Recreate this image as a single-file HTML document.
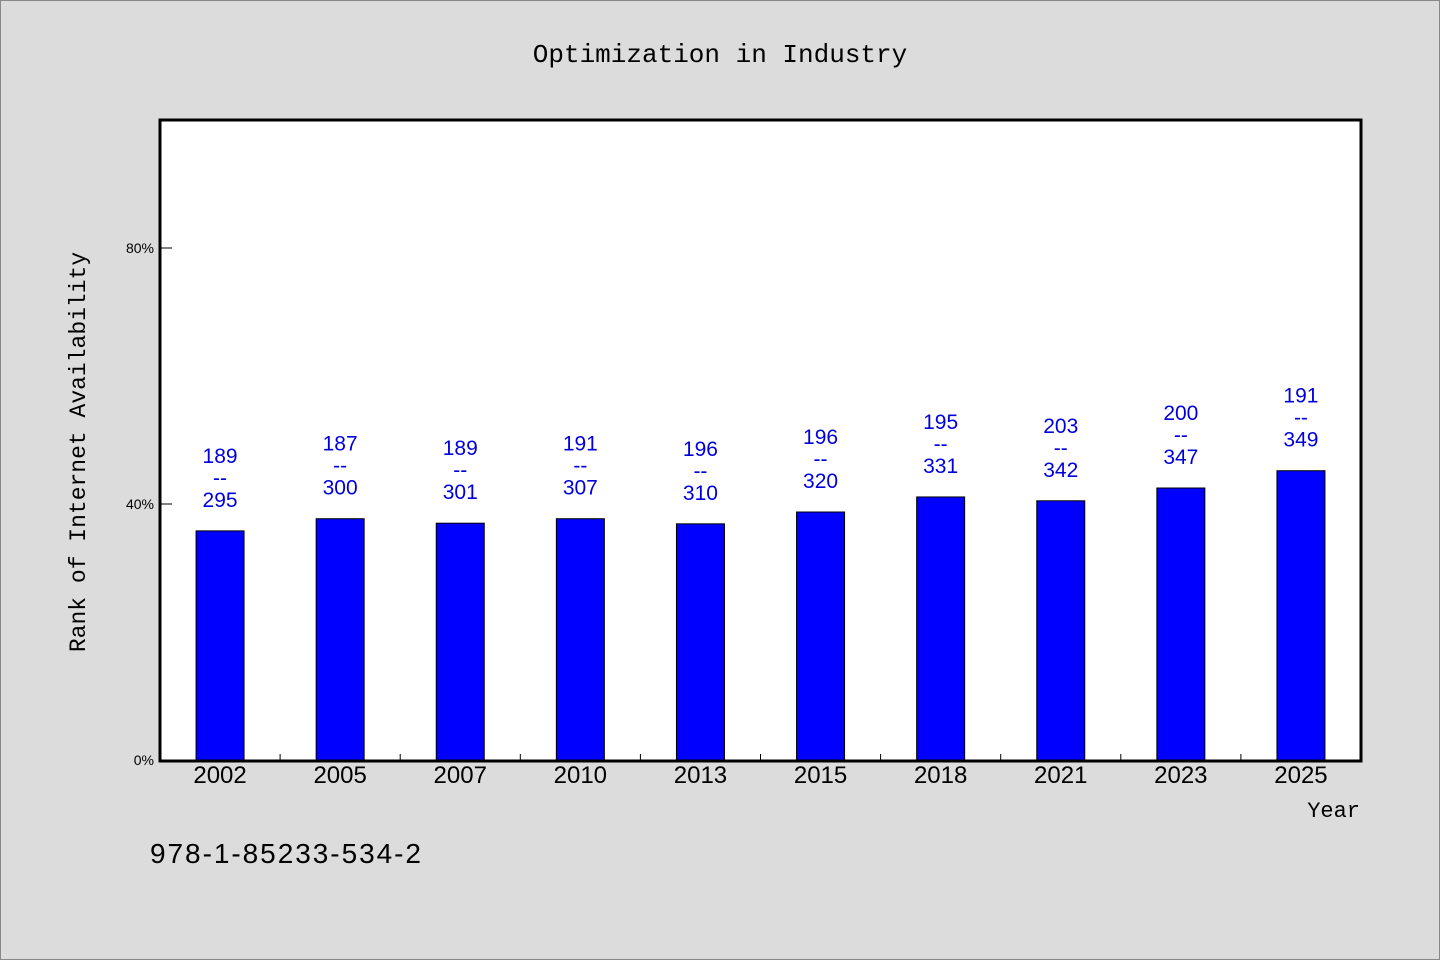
<!DOCTYPE html>
<html><head><meta charset="utf-8"><style>
body{margin:0;background:#dcdcdc;}
svg{display:block;}
</style></head><body>
<svg width="1440" height="960" xmlns="http://www.w3.org/2000/svg">
<rect x="0.5" y="0.5" width="1439" height="959" fill="#dcdcdc" stroke="#888"/>
<text x="720" y="62" text-anchor="middle" font-family="Liberation Mono, monospace" font-size="26">Optimization in Industry</text>
<rect x="160" y="120" width="1201" height="641" fill="#fff" stroke="#000" stroke-width="3"/>
<g id="marks"></g>
<text transform="translate(85,452) rotate(-90)" text-anchor="middle" font-family="Liberation Mono, monospace" font-size="23">Rank of Internet Availability</text>
<text x="1360" y="817" text-anchor="end" font-family="Liberation Mono, monospace" font-size="22">Year</text>
<text x="150" y="863" font-family="Liberation Sans, sans-serif" font-size="28" textLength="271">978-1-85233-534-2</text>
</svg>
<script>
const categories=["2002","2005","2007","2010","2013","2015","2018","2021","2023","2025"];
const values=[35.8,37.7,37.0,37.7,36.9,38.75,41.1,40.5,42.5,45.2];
const labelTop=["189","187","189","191","196","196","195","203","200","191"];
const labelBottom=["295","300","301","307","310","320","331","342","347","349"];
const yTicks=[0,40,80];
const NS="http://www.w3.org/2000/svg";
const g=document.getElementById('marks');
const x0=160,x1=1361,y0=760,yTop=120,yMax=100;
const slot=(x1-x0)/categories.length;
const xC=i=>x0+slot*(i+0.5);
const yS=v=>y0-(v/yMax)*(y0-yTop);
function mk(t,a){const e=document.createElementNS(NS,t);for(const k in a)e.setAttribute(k,a[k]);g.appendChild(e);return e;}
yTicks.forEach(v=>{
  const y=yS(v);
  const l=mk('line',{x1:x0,x2:x0+12,y1:y,y2:y,stroke:'#000'});
  
  
  const t=mk('text',{x:x0-6,y:y+5,'text-anchor':'end','font-family':'Liberation Sans, sans-serif','font-size':14});
  t.textContent=v+'%';
  
  
});
categories.forEach((c,i)=>{
  if(i>0){const tk=mk('line',{x1:x0+slot*i,x2:x0+slot*i,y1:y0-6,y2:y0,stroke:'#000'});
  
  }
  const cx=xC(i),yt=yS(values[i]);
  const b=mk('rect',{x:cx-24,y:yt,width:48,height:y0-yt,fill:'#0000ff',stroke:'#000','stroke-width':1});
  
  
  const tl=mk('text',{x:cx,y:y0+23,'text-anchor':'middle','font-family':'Liberation Sans, sans-serif','font-size':24});
  tl.textContent=c;
  
  
  const lines=[labelTop[i],'--',labelBottom[i]];
  lines.forEach((s,j)=>{
    const t=mk('text',{x:cx,y:yt-24-(2-j)*22,'text-anchor':'middle','font-family':'Liberation Sans, sans-serif','font-size':21,fill:'#0000dd'});
    t.textContent=s;
    
    
  });
});
</script>
</body></html>
